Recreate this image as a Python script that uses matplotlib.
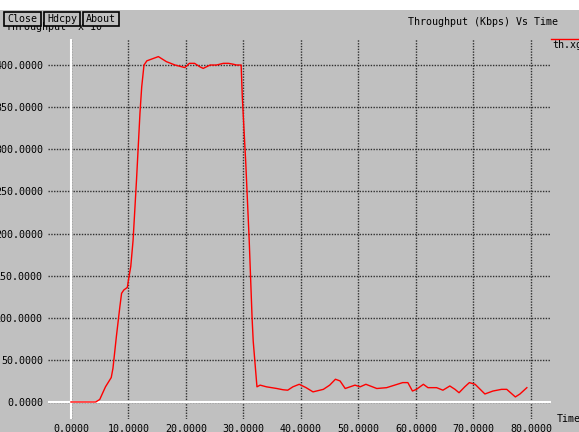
import matplotlib
matplotlib.use("Agg")
import matplotlib.pyplot as plt
from matplotlib.patches import Rectangle

# ---- data ----
time = [0, 4.3, 5.0, 6.0, 7.0, 7.3, 7.9, 8.5, 8.8, 9.2, 9.8, 10.0, 10.4, 10.8,
        11.4, 12.0, 12.3, 12.7, 13.2, 14.0, 15.2, 16.6, 18.1, 19.8, 20.6, 21.5,
        22.4, 23.0, 24.2, 25.3, 26.5, 27.4, 28.2, 28.8, 29.6, 29.8, 30.4, 31.0,
        31.5, 31.7, 32.35, 32.9, 34.0, 35.8, 36.9, 37.7, 38.6, 39.7, 40.9, 42.1,
        43.9, 45.0, 46.0, 46.8, 47.7, 49.4, 50.3, 51.3, 53.2, 54.9, 56.3, 57.7,
        58.6, 59.4, 60.1, 61.3, 62.1, 63.6, 64.7, 65.9, 66.8, 67.5, 68.5, 69.3,
        70.3, 72.0, 73.4, 74.9, 75.8, 77.3, 78.1, 79.3]
throughput = [0, 0, 3, 18, 29, 40, 78, 113, 129, 133, 136, 145, 161, 192,
              264, 343, 374, 400, 405, 407, 410, 404, 400, 397, 402, 402,
              398, 396, 400, 400, 402, 402, 401, 400, 400, 362, 284, 192,
              100, 72, 18, 20, 18, 16, 14.5, 14, 18, 21, 17, 12,
              15, 20, 27, 25, 16, 20, 18, 21, 16, 17, 20, 23,
              23, 13, 15, 21, 17, 17, 14, 19, 15, 11, 18, 23,
              21, 9.5, 13, 15, 15, 6, 9.5, 17]
xticks = [0, 10, 20, 30, 40, 50, 60, 70, 80]
yticks = [0, 50, 100, 150, 200, 250, 300, 350, 400]
title = "Throughput (Kbps) Vs Time"
ylabel = "Throughput  x 10 ^"
xlabel = "Time"
legend_name = "th.xg"
buttons = ["Close", "Hdcpy", "About"]

W, H = 579, 432
BG = "#c0c0c0"
FONT = "DejaVu Sans Mono"
FS = 7.2

fig = plt.figure(figsize=(W / 100, H / 100), dpi=100, facecolor=BG)

def fx(px):
    return px / W

def fy(py):
    return 1 - py / H

# white strip at top
fig.patches.append(Rectangle((0, fy(10)), 1, 1 - fy(10), transform=fig.transFigure,
                             facecolor="white", edgecolor="none", zorder=0))

ax = fig.add_axes([fx(48), fy(419), fx(551) - fx(48), fy(39) - fy(419)])
ax.set_facecolor(BG)
for s in ax.spines.values():
    s.set_visible(False)
ax.set_xlim(-4.0, 83.5)
ax.set_ylim(-20.2, 430.9)
ax.set_xticks(xticks)
ax.set_yticks(yticks)
ax.set_xticklabels([f"{v:.4f}" for v in xticks], fontfamily=FONT, fontsize=FS)
ax.set_yticklabels([f"{v:.4f}" for v in yticks], fontfamily=FONT, fontsize=FS)
ax.tick_params(length=0, pad=3.5)
ax.grid(True, color="#303030", linestyle=(0, (1, 1)), linewidth=1.0)
ax.set_axisbelow(True)
ax.axhline(0, color="white", linewidth=1.5, zorder=2)
ax.axvline(0, color="white", linewidth=1.5, zorder=2)
ax.plot(time, throughput, color="#ff0000", linewidth=1.0, zorder=3)

# texts
fig.text(fx(408), fy(22), title, fontfamily=FONT, fontsize=FS, ha="left", va="center")
fig.text(fx(557), fy(419), xlabel, fontfamily=FONT, fontsize=FS, ha="left", va="center")
fig.text(fx(6), fy(30), ylabel, fontfamily=FONT, fontsize=FS, ha="left", va="baseline", zorder=1)

# legend
fig.lines.append(plt.Line2D([fx(551), fx(579)], [fy(39), fy(39)], transform=fig.transFigure,
                            color="#ff0000", linewidth=1.0))
fig.text(fx(552), fy(45), legend_name, fontfamily=FONT, fontsize=FS, ha="left", va="center")

# buttons
bx = [(4, 41), (44, 80), (83, 119)]
for name, (x0, x1) in zip(buttons, bx):
    fig.patches.append(Rectangle((fx(x0), fy(26)), fx(x1) - fx(x0), fy(12) - fy(26),
                                 transform=fig.transFigure, facecolor=BG,
                                 edgecolor="black", linewidth=1.2, zorder=5))
    fig.text(fx((x0 + x1) / 2), fy(19), name, fontfamily=FONT, fontsize=FS,
             ha="center", va="center", zorder=6)

fig.savefig("out.png", dpi=100, facecolor=BG)
